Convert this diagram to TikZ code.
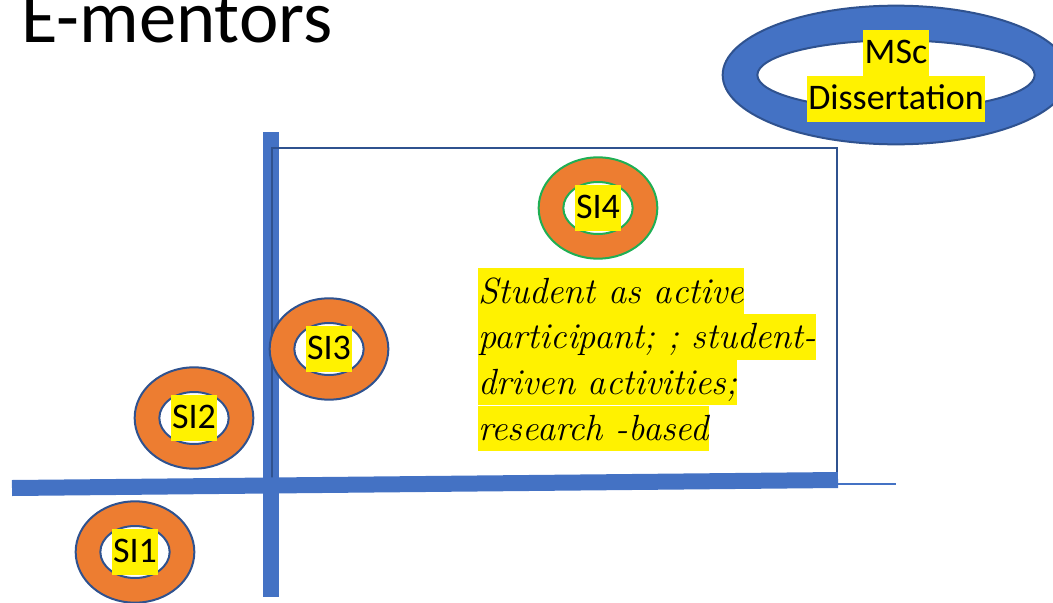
\documentclass[tikz,border=0pt]{standalone}
\usepackage{fontspec}
\setsansfont{Carlito}
\usetikzlibrary{shapes.geometric}
\usetikzlibrary{positioning}

\definecolor{barblue}{HTML}{4472C4}
\definecolor{edgeblue}{HTML}{2F528F}
\definecolor{ringorange}{HTML}{ED7D31}
\definecolor{ringgreen}{HTML}{1FAF54}

\begin{document}
\begin{tikzpicture}[x=0.75pt,y=-0.75pt]
\tikzstyle{ring node}=[ellipse,draw=edgeblue,line width=1.5pt,fill=ringorange,minimum width=89pt,minimum height=76pt,inner sep=0]
\tikzstyle{hole node}=[ellipse,draw=edgeblue,line width=1.5pt,fill=white,minimum width=52pt,minimum height=39pt,inner sep=0]
\tikzstyle{gring node}=[ring node,draw=ringgreen]
\tikzstyle{ghole node}=[hole node,draw=ringgreen]
\tikzset{
  tag/.style = {fill=yellow,inner sep=0,inner xsep=1pt,font=\sffamily\fontsize{27}{32}\selectfont,text height=25pt,text depth=9pt},
  note/.style = {fill=yellow,inner sep=0,font=\itshape\fontsize{27.3}{33}\selectfont,text height=26pt,text depth=8pt},
  title/.style = {inner sep=0,font=\sffamily\fontsize{56}{60}\selectfont},
  bar/.style = {draw=barblue,line width=11.5pt},
  frame/.style = {draw=edgeblue,line width=1.5pt}
}
\useasboundingbox (0,0) rectangle (1053,603);
\clip (0,0) rectangle (1053,603);

    \node[title] (head) [anchor=base west] at (21,42) {E-mentors};

    % axes and the box
    \coordinate (vtop) at (271,132);
    \coordinate (vbot) at (271,597);
    \coordinate (hleft) at (12,488);
    \coordinate (hright) at (838,480);
    \coordinate (tail) at (896,484);
    \draw[bar] (vtop) -- (vbot);
    \draw[frame] (272,148) rectangle (837,480);
    \draw[bar,line width=12pt] (hleft) -- (hright);
    \draw[draw=barblue,line width=1.5pt] (838,484) -- (tail);

    %%%%%%%%%%%%%%%%%%%%%%%%%%%%%%%%%%%%%%%%%%
    \node[ellipse,draw=edgeblue,line width=1.5pt,fill=barblue,minimum width=260pt,minimum height=104pt] (msring) at (896,75) {};
    \node[ellipse,draw=edgeblue,line width=1.5pt,fill=white,minimum width=208pt,minimum height=52pt] (mshole) at (msring) {};
    \node[tag] (msc) at (896,53) {MSc};
    \node[tag] (diss) [below=0pt of msc] {Dissertation};

    \node[ring node] (si1) at (135,552) {};
    \node[hole node] (h1) at (si1) {};
    \node[ring node] (si2) at (194,418) {};
    \node[hole node] (h2) at (si2) {};
    \node[ring node] (si3) at (329,349) {};
    \node[hole node] (h3) at (si3) {};
    \node[gring node] (si4) at (598,208) {};
    \node[ghole node] (h4) at (si4) {};

    \node[tag] (l1) at (si1) {SI1};
    \node[tag] (l2) at (si2) {SI2};
    \node[tag] (l3) at (si3) {SI3};
    \node[tag] (l4) at (si4) {SI4};

    \node[note] (st1) [anchor=base west] at (478,303) {Student as active\ };
    \node[note] (st2) [below right=0pt and 0pt of st1.south west] {participant; ; student-};
    \node[note] (st3) [below right=0pt and 0pt of st2.south west] {driven activities;};
    \node[note] (st4) [below right=0pt and 0pt of st3.south west] {research -based};
\end{tikzpicture}
\end{document}
